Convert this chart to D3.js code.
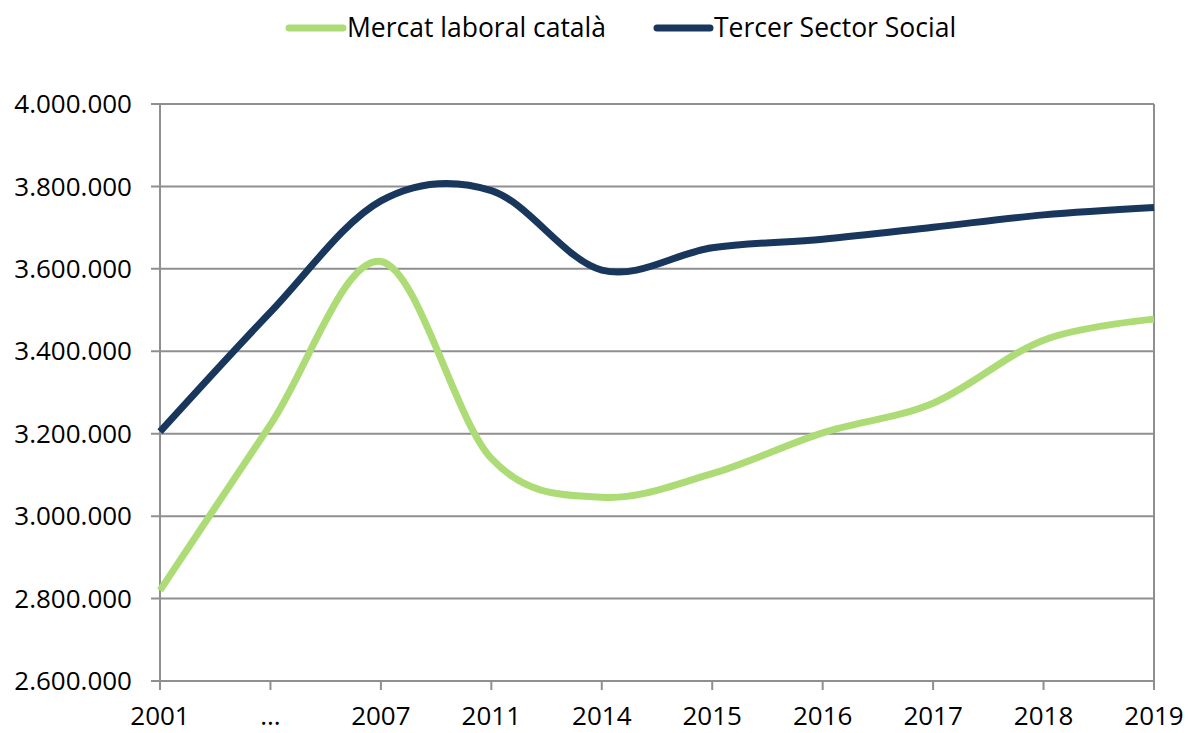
<!DOCTYPE html>
<html>
<head>
<meta charset="utf-8">
<script src="https://cdn.jsdelivr.net/npm/d3@7"></script>
<style>
  body { margin: 0; background: #fff; }
  svg { display: block; font-family: 'Open Sans', sans-serif; }
</style>
</head>
<body>
<svg id="chart" width="1189" height="733"></svg>
<script>
// Dades
const years = ['2001', '...', '2007', '2011', '2014', '2015', '2016', '2017', '2018', '2019']
const mercat = [2820000, 3222000, 3618000, 3140000, 3046000, 3103000, 3202000, 3274000, 3427000, 3478000]
const tercer = [3205000, 3495000, 3765000, 3790000, 3597000, 3651000, 3672000, 3701000, 3731000, 3749000]
const yTicks = [2600000, 2800000, 3000000, 3200000, 3400000, 3600000, 3800000, 4000000]

const series = [
  { name: 'Mercat laboral català', values: mercat, color: '#addc77' },
  { name: 'Tercer Sector Social', values: tercer, color: '#19375c' },
]

const svg = d3.select('#chart')
const m = { left: 160, right: 1154, top: 104, bottom: 681 }

const x = d3.scalePoint().domain(years).range([m.left, m.right])
const y = d3.scaleLinear().domain([2600000, 4000000]).range([m.bottom, m.top])

const fmt = d => d3.format(',')(d).replace(/,/g, '.')
const grid = '#8f8f8f'
const fs = '26px'

// Gridlines
svg.append('g')
  .selectAll('line')
  .data(yTicks)
  .join('line')
  .attr('x1', m.left - 9).attr('x2', m.right)
  .attr('y1', d => y(d)).attr('y2', d => y(d))
  .attr('stroke', grid).attr('stroke-width', 2)

// Y axis line + right border
svg.append('line').attr('x1', m.left).attr('x2', m.left).attr('y1', m.top).attr('y2', m.bottom)
  .attr('stroke', grid).attr('stroke-width', 2)
svg.append('line').attr('x1', m.right).attr('x2', m.right).attr('y1', m.top).attr('y2', m.bottom)
  .attr('stroke', grid).attr('stroke-width', 2)

// X ticks
svg.append('g')
  .selectAll('line')
  .data(years)
  .join('line')
  .attr('x1', d => x(d)).attr('x2', d => x(d))
  .attr('y1', m.bottom).attr('y2', m.bottom + 9)
  .attr('stroke', grid).attr('stroke-width', 2)

// Y labels
svg.append('g')
  .selectAll('text')
  .data(yTicks)
  .join('text')
  .attr('x', 132)
  .attr('y', d => y(d))
  .attr('dy', '0.35em')
  .attr('text-anchor', 'end')
  .style('font-size', fs)
  .style('fill', '#000')
  .text(fmt)

// X labels
svg.append('g')
  .selectAll('text')
  .data(years)
  .join('text')
  .attr('x', d => x(d))
  .attr('y', 725)
  .attr('text-anchor', 'middle')
  .style('font-size', fs)
  .style('fill', '#000')
  .text(d => d)

// Lines
const line = d3.line()
  .x((d, i) => x(years[i]))
  .y(d => y(d))
  .curve(d3.curveCardinal.tension(0))

svg.append('g')
  .selectAll('path')
  .data(series)
  .join('path')
  .attr('d', d => line(d.values))
  .attr('fill', 'none')
  .attr('stroke', d => d.color)
  .attr('stroke-width', 7)
  .attr('stroke-linejoin', 'round')

// Legend
const legendPos = [{ lx: 289, tx: 347 }, { lx: 657, tx: 714 }]
const lg = svg.append('g')
  .selectAll('g')
  .data(series)
  .join('g')
lg.append('line')
  .attr('x1', (d, i) => legendPos[i].lx).attr('x2', (d, i) => legendPos[i].tx - 4)
  .attr('y1', 28).attr('y2', 28)
  .attr('stroke', d => d.color).attr('stroke-width', 7).attr('stroke-linecap', 'round')
lg.append('text')
  .attr('x', (d, i) => legendPos[i].tx)
  .attr('y', 28)
  .attr('dy', '0.35em')
  .style('font-size', '26.5px')
  .style('fill', '#000')
  .text(d => d.name)
</script>
</body>
</html>
